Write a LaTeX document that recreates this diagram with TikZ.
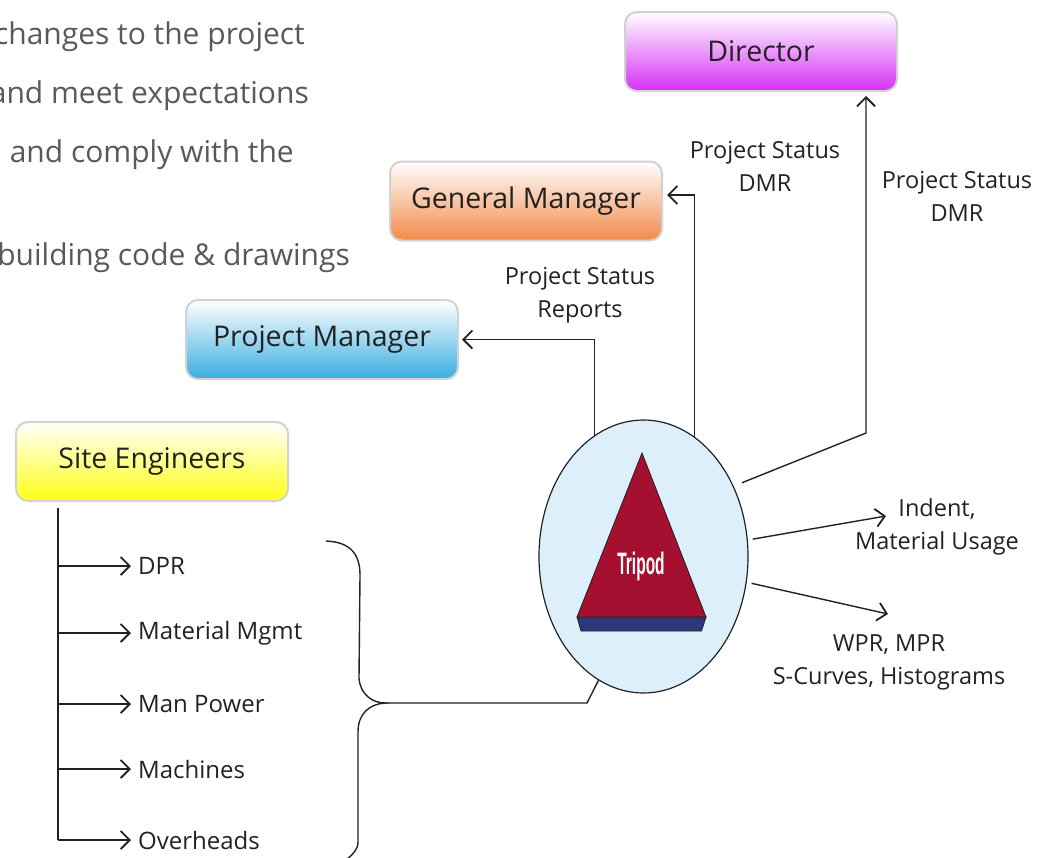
\documentclass[tikz,border=0pt]{standalone}
\usepackage{fontspec}
\setmainfont{Open Sans}
\newfontfamily\tripodfont[FakeStretch=0.5]{Liberation Sans}
\usetikzlibrary{positioning}
\usetikzlibrary{calc}
\usetikzlibrary{arrows.meta}
\usetikzlibrary{shapes.geometric}
\definecolor{ink}{RGB}{34,34,34}
\definecolor{note}{RGB}{89,89,89}
\definecolor{dirpink}{RGB}{214,48,246}
\definecolor{gmorange}{RGB}{242,138,74}
\definecolor{pmblue}{RGB}{58,174,224}
\definecolor{seyellow}{RGB}{255,255,20}
\definecolor{ovalblue}{RGB}{222,239,252}
\definecolor{tricrimson}{RGB}{165,16,48}
\definecolor{trinavy}{RGB}{46,55,122}

\tikzset{
    rolebox/.style={rounded corners=12pt, draw=gray!35, line width=2pt,
        minimum width=272pt, minimum height=79pt, top color=white, bottom color=#1,
        text=ink, font=\fontsize{28.5}{30}\selectfont},
    flowlabel/.style={align=center, text=ink, inner sep=0pt, font=\fontsize{23.5}{33}\selectfont},
    item/.style={anchor=west, text=ink, inner sep=0pt, font=\fontsize{24}{28}\selectfont},
    notetext/.style={anchor=east, text=note, inner sep=0pt, font=\fontsize{30}{34}\selectfont},
    wire/.style={draw=ink, line width=1.4pt},
    flow/.style={wire, -{Straight Barb[length=9pt, width=18pt, line width=1.8pt]}}
}

\begin{document}
\begin{tikzpicture}[x=1pt, y=-1pt]
    \useasboundingbox (0,0) rectangle (1051,857);
    \clip (0,0) rectangle (1051,857);

    % Text running in from the left
    \node[notetext] (note1) at (305,37) {changes to the project};
    \node[notetext] (note2) at (309,96) {and meet expectations};
    \node[notetext] (note3) at (294,155) {and comply with the};
    \node[notetext] (note4) at (350,258) {building code \& drawings};

    % Role boxes
    \node[rolebox=dirpink] (director) at (761,51.5) {Director};
    \node[rolebox=gmorange] (gm) at (526,201) {General Manager};
    \node[rolebox=pmblue] (pm) at (322,339.5) {Project Manager};
    \node[rolebox=seyellow] (site) at (152,461.5) {Site Engineers};

    % Tripod oval
    \node[ellipse, draw=ink, line width=1.2pt, fill=ovalblue, minimum width=209pt,
        minimum height=273pt, inner sep=0pt] (tripod) at (643.5,556.5) {};
    \fill[trinavy, draw=ink, line width=0.8pt] (577,617) -- (706,617) -- (701.5,631) -- (581,631) -- cycle;
    \fill[tricrimson, draw=ink, line width=0.8pt] (642,453) -- (706,617) -- (577,617) -- cycle;
    \node[text=white, font=\tripodfont\bfseries\fontsize{31}{33}\selectfont] (tripodtext) at (641,566) {Tripod};

    % Reports going up
    \draw[flow, shorten >=3pt] (tripod.112) |- (pm.east);
    \draw[flow, shorten >=4pt] (tripod.67) |- ([yshift=6pt]gm.east);
    \coordinate (dirbend) at (866,433);
    \draw[flow, shorten <=9pt, shorten >=4pt] (tripod.38) -- (dirbend) -- (dirbend |- director.south);
    \node[flowlabel] (pmlabel) at (580,295) {Project Status\\Reports};
    \node[flowlabel] (gmlabel) at (765,166) {Project Status\\DMR};
    \node[flowlabel] (dirlabel) at (957,196) {Project Status\\DMR};

    % Reports going out
    \coordinate (indenttip) at (886,516);
    \coordinate (wprtip) at (888,614);
    \draw[flow, shorten <=5pt] (tripod.9) -- (indenttip);
    \draw[flow, shorten <=5pt] (tripod.-14) -- (wprtip);
    \node[flowlabel] (indent) at (937,527) {Indent,\\Material Usage};
    \node[flowlabel] (wpr) at (889,662) {WPR, MPR\\S-Curves, Histograms};

    % Site engineer outputs
    \coordinate (trunk) at (58,508);
    \foreach \y/\txt in {566/DPR, 633/Material Mgmt, 704/Man Power, 769/Machines, 840/Overheads} {
        \node[item] (item\y) at (138,\y) {\txt};
        \draw[flow, shorten >=7pt] (item\y.west -| trunk) -- (item\y.west);
    }
    \draw[wire] (trunk) -- (trunk |- item840.west);

    % Brace gathering them into the tripod
    \coordinate (bracetip) at (385,703);
    \draw[wire] (326,541) .. controls (352,542) and (360,556) .. (360,575)
        -- (359,678) .. controls (360,694) and (372,703) .. (bracetip)
        .. controls (370,704) and (358,713) .. (358,732)
        -- (358,842) .. controls (358,850) and (352,855) .. (346,860);
    \draw[wire] (tripod.250) -- (587,703) -- (bracetip);
\end{tikzpicture}
\end{document}
